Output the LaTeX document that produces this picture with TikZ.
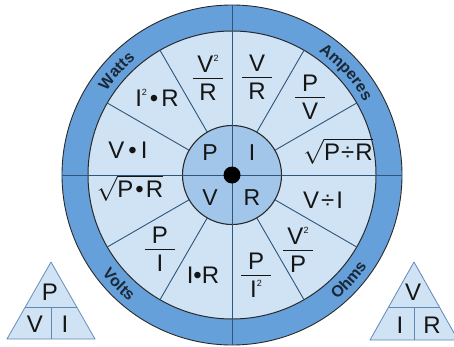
\documentclass[tikz,border=0pt]{standalone}
\usepackage{fontspec}
\setmainfont{Liberation Sans}
\usetikzlibrary{decorations.text}
\definecolor{ringc}{HTML}{66A0DA}
\definecolor{midc}{HTML}{A2C6EA}
\definecolor{lightc}{HTML}{D0E3F5}
\definecolor{spokec}{HTML}{2F5577}
\definecolor{edgec}{HTML}{2A2A2A}
\definecolor{ink}{HTML}{151515}
\definecolor{ringtext}{HTML}{1A2836}
\definecolor{trline}{HTML}{5F88B6}
\setlength\arrayrulewidth{0.8pt}
\newcommand\sq{\raisebox{10.5pt}{\fontsize{9}{9}\selectfont 2}}
\newcommand\fr[2]{\begin{tabular}{@{}c@{}}\makebox[30pt]{#1}\\[-2pt]\hline\rule{0pt}{22pt}#2\\[-7.2pt]\end{tabular}}
\newcommand\ringfnt{\fontsize{16}{16}\selectfont\bfseries}
\begin{document}
\begin{tikzpicture}[x=1pt,y=1pt,
  txt/.style={inner sep=0pt, text=ink, font=\fontsize{24}{24}\selectfont},
  ctr/.style={inner sep=0pt, text=ink, font=\fontsize{23}{23}\selectfont},
  spoke/.style={draw=spokec, line width=0.9pt},
  tri/.style={fill=lightc, draw=trline, line width=0.8pt, line join=round},
  triline/.style={draw=trline, line width=0.8pt},
  ringlabel/.style={decorate, decoration={text along path, text={|\ringfnt|#1}, text align=center, text color=ringtext}}]
\useasboundingbox (0,0) rectangle (454,346);
\begin{scope}[shift={(232,171)}]
  \fill[ringc] (0,0) circle (170pt);
  \draw[edgec, line width=0.9pt] (0,0) circle (170pt);
  \filldraw[fill=lightc, draw=edgec, line width=1pt] (0,0) circle (144pt);
  \foreach \a in {30,60,120,150,210,240,300,330}
    \draw[spoke] (\a:49.5pt) -- (\a:144pt);
  \filldraw[fill=midc, draw=edgec, line width=1.1pt] (0,0) circle (49.5pt);
  \foreach \a in {0,90,180,270}
    \draw[spoke] (0,0) -- (\a:170pt);
  \fill[black] (0,0) circle (8.5pt);
  \path[ringlabel=Watts] (160:151pt) arc[start angle=160, end angle=116, radius=151pt];
  \path[ringlabel=Amperes] (72:151pt) arc[start angle=72, end angle=12, radius=151pt];
  \path[ringlabel=Volts] (200:163pt) arc[start angle=200, end angle=248, radius=163pt];
  \path[ringlabel=Ohms] (294:163pt) arc[start angle=294, end angle=342, radius=163pt];
\end{scope}
% centre letters
\node[ctr] (cp) at (210,193) {P};
\node[ctr] (ci) at (252,193) {I};
\node[ctr] (cv) at (210,148) {V};
\node[ctr] (cr) at (252,148) {R};
% sector formulas
\node[txt] (v2r) at (208,268) {\fr{V\sq}{R}};
\node[txt] (vr) at (257,269) {\fr{V}{R}};
\node[txt] (pv) at (310,249) {\fr{P}{V}};
\node[txt] (pdr) at (338,195) {$\sqrt{\mbox{P\hspace{1pt}÷\hspace{1pt}R}}$};
\node[txt] (vdi) at (323,146) {V\hspace{2pt}÷\hspace{2pt}I};
\node[txt] (v2p) at (298,96) {\fr{V\sq}{P}};
\node[txt] (pi2) at (256,71) {\fr{P}{I\sq}};
\node[txt] (ir) at (203,71) {I•R};
\node[txt] (pi) at (160,97) {\fr{P}{I}};
\node[txt] (pr) at (130,158) {$\sqrt{\mbox{P\hspace{2pt}•\hspace{2pt}R}}$};
\node[txt] (vi) at (128,196) {V\hspace{4pt}•\hspace{4pt}I};
\node[txt] (i2r) at (157,248) {I\sq\hspace{3pt}•\hspace{3pt}R};
% left triangle
\filldraw[tri] (51,84) -- (7,7) -- (95,7) -- cycle;
\draw[triline] (25.3,39) -- (76.7,39);
\draw[triline] (51,39) -- (51,7);
\node[txt] (tp) at (50,54) {P};
\node[txt] (tv) at (35,22) {V};
\node[txt] (ti) at (65,22) {I};
% right triangle
\filldraw[tri] (414,84) -- (370,6) -- (458,6) -- cycle;
\draw[triline] (388.6,39) -- (439.4,39);
\draw[triline] (414,39) -- (414,6);
\node[txt] (rv) at (413,54) {V};
\node[txt] (ri) at (400,21) {I};
\node[txt] (rr) at (432,21) {R};
\end{tikzpicture}
\end{document}
